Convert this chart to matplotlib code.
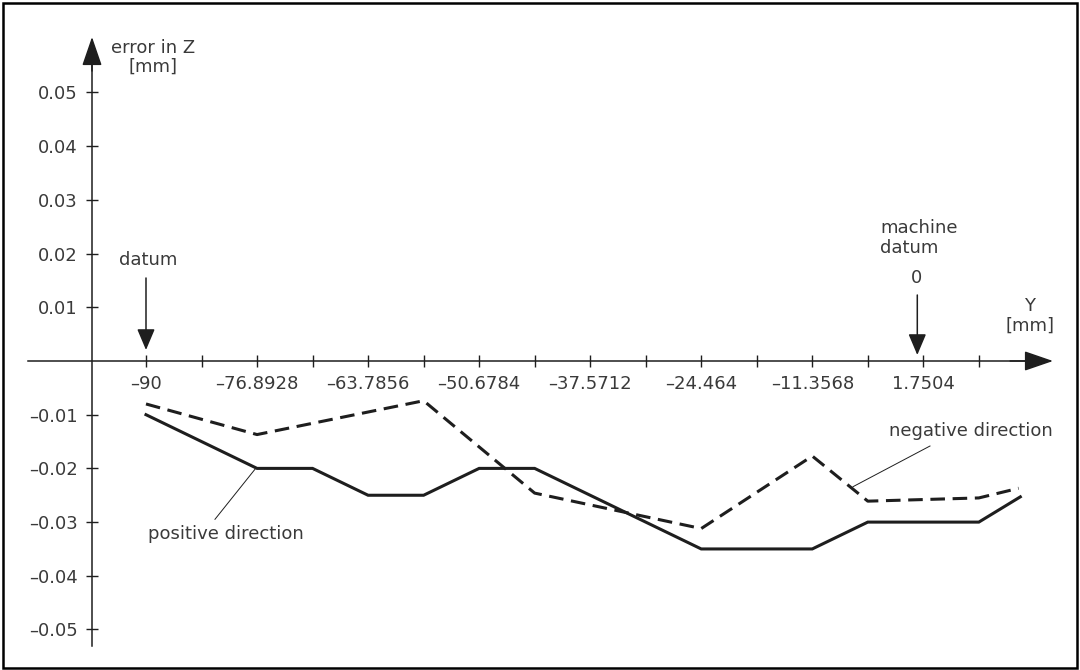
import matplotlib
matplotlib.use("Agg")
import matplotlib.pyplot as plt
from matplotlib.patches import Rectangle

# Axis grid along Y [mm] (tick every 6.5536 mm, label every second tick)
position_ticks = [-90.0, -83.4464, -76.8928, -70.3392, -63.7856, -57.232,
                  -50.6784, -44.1248, -37.5712, -31.0176, -24.464, -17.9104,
                  -11.3568, -4.8032, 1.7504, 8.304]
position_labels = ["\u201390", "", "\u201376.8928", "", "\u201363.7856", "",
                   "\u201350.6784", "", "\u201337.5712", "", "\u201324.464", "",
                   "\u201311.3568", "", "1.7504", ""]

# Error axis ticks [mm]
error_ticks = [-0.05, -0.04, -0.03, -0.02, -0.01, 0.01, 0.02, 0.03, 0.04, 0.05]
error_labels = ["\u20130.05", "\u20130.04", "\u20130.03", "\u20130.02", "\u20130.01",
                "0.01", "0.02", "0.03", "0.04", "0.05"]

# Measured error, traversing in positive direction (solid)
pos_y = [-90.0, -76.8928, -70.3392, -63.7856, -57.232, -50.6784, -44.1248,
         -24.464, -11.3568, -4.8032, 8.304, 13.2]
pos_err = [-0.010, -0.020, -0.020, -0.025, -0.025, -0.020, -0.020,
           -0.035, -0.035, -0.030, -0.030, -0.0253]

# Measured error, traversing in negative direction (dashed)
neg_y = [-90.0, -76.8928, -57.232, -44.1248, -24.464, -11.3568, -4.8032, 8.304, 13.0]
neg_err = [-0.0080, -0.0137, -0.0074, -0.0246, -0.0312, -0.0177, -0.0261, -0.0255, -0.0237]

ink = "#1e1e1e"
text_col = "#3a3a3a"
fs = 13

plt.rcParams["font.family"] = ["DejaVu Sans"]
plt.rcParams["lines.scale_dashes"] = False

fig = plt.figure(figsize=(10.8, 6.7), dpi=100)
ax = fig.add_axes([0, 0, 1, 1])
ax.set_xlim(-107.233, 20.245)
ax.set_ylim(-0.057542, 0.067225)
ax.patch.set_visible(False)

# Axes drawn as crossing lines with arrow heads
for side in ("top", "right"):
    ax.spines[side].set_visible(False)
y_axis_at = -96.374
ax.spines["left"].set_position(("data", y_axis_at))
ax.spines["bottom"].set_position(("data", 0))
ax.spines["left"].set_bounds(-0.05302, 0.056)
ax.spines["bottom"].set_bounds(-103.93, 15.0)
for side in ("left", "bottom"):
    ax.spines[side].set_linewidth(1.1)
    ax.spines[side].set_color(ink)

arrow_kw = dict(arrowstyle="-|>,head_length=1.8,head_width=0.62",
                mutation_scale=10, color=ink, lw=1.1, shrinkA=0, shrinkB=0)
ax.annotate("", xy=(17.06, 0), xytext=(12.0, 0), arrowprops=arrow_kw)
ax.annotate("", xy=(y_axis_at, 0.06034), xytext=(y_axis_at, 0.054), arrowprops=arrow_kw)

ax.set_xticks(position_ticks, position_labels)
ax.set_yticks(error_ticks, error_labels)
ax.tick_params(direction="inout", length=8.6, width=1.0, color=ink,
               labelcolor=text_col, labelsize=fs)
ax.tick_params(axis="x", pad=6.0)
ax.tick_params(axis="y", pad=6.0)

# Data curves
ax.plot(pos_y, pos_err, color=ink, lw=2.2, solid_joinstyle="miter")
ax.plot(neg_y, neg_err, color=ink, lw=2.2, dashes=(10.5, 5.5))

# Axis titles
ax.text(-89.17, 0.05655, "error in Z\n[mm]", ha="center", va="center",
        fontsize=fs, color=text_col, linespacing=1.1)
ax.text(14.34, 0.00842, "Y\n[mm]", ha="center", va="center",
        fontsize=fs, color=text_col, linespacing=1.1)

# Datum markers
small_arrow = dict(arrowstyle="-|>,head_length=1.3,head_width=0.55",
                   mutation_scale=10, color=ink, lw=1.1, shrinkA=0, shrinkB=0)
ax.text(-89.7, 0.01881, "datum", ha="center", va="center", fontsize=fs, color=text_col)
ax.annotate("", xy=(-90.0, 0.00205), xytext=(-90.0, 0.01546), arrowprops=small_arrow)

ax.text(-3.36, 0.0229, "machine\ndatum", ha="left", va="center",
        fontsize=fs, color=text_col, linespacing=1.1)
ax.text(0.97, 0.01546, "0", ha="center", va="center", fontsize=fs, color=text_col)
ax.annotate("", xy=(1.04, 0.00112), xytext=(1.04, 0.01229), arrowprops=small_arrow)

# Curve labels with leader lines
ax.text(7.32, -0.01304, "negative direction", ha="center", va="center",
        fontsize=fs, color=text_col)
ax.plot([-6.55, 2.54], [-0.02341, -0.01583], color=ink, lw=0.7)
ax.text(-80.56, -0.03222, "positive direction", ha="center", va="center",
        fontsize=fs, color=text_col)
ax.plot([-77.02, -81.86], [-0.01993, -0.02948], color=ink, lw=0.7)

# Outer frame
fig.patches.append(Rectangle((3 / 1080, 2 / 670), 1074 / 1080, 665 / 670,
                             transform=fig.transFigure, fill=False,
                             edgecolor="black", lw=1.8))

fig.savefig("out.png", dpi=100)
